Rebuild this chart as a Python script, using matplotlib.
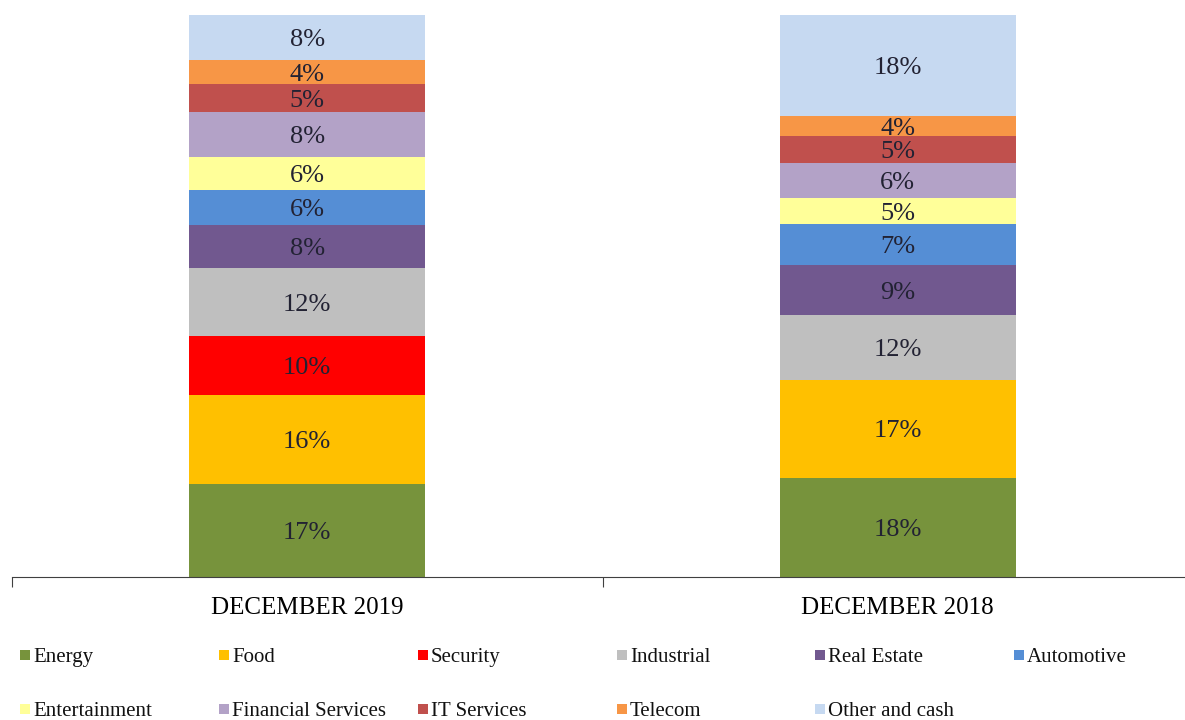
import matplotlib
matplotlib.use("Agg")
import matplotlib.pyplot as plt
from matplotlib.patches import Rectangle

periods = ["DECEMBER 2019", "DECEMBER 2018"]
sectors = ["Energy", "Food", "Security", "Industrial", "Real Estate", "Automotive",
           "Entertainment", "Financial Services", "IT Services", "Telecom", "Other and cash"]
dec_2019 = [16.6, 15.8, 10.4, 12.1, 7.8, 6.1, 5.9, 8.0, 5.0, 4.3, 8.0]
dec_2018 = [17.7, 17.3, 0.0, 11.6, 8.9, 7.3, 4.6, 6.2, 4.8, 3.6, 18.0]
colors = ["#77933C", "#FFC000", "#FF0000", "#BFBFBF", "#71588F", "#558ED5",
          "#FFFF99", "#B3A2C7", "#C0504D", "#F79646", "#C6D9F1"]

serif = ["Liberation Serif", "DejaVu Serif"]
W, H = 1185, 720

fig = plt.figure(figsize=(W / 100, H / 100), dpi=100)
ax = fig.add_axes([12 / W, (H - 577) / H, 1181 / W, (577 - 15) / H])

series = [dec_2019, dec_2018]
x = list(range(len(periods)))
bottoms = [0.0] * len(periods)
for i, sec in enumerate(sectors):
    vals = [s[i] for s in series]
    ax.bar(x, vals, width=0.4, bottom=bottoms, color=colors[i], label=sec)
    for xi, v, b in zip(x, vals, bottoms):
        if v > 0:
            ax.text(xi, b + v / 2, f"{v:.0f}%", ha="center", va="center_baseline",
                    fontsize=19, family=serif, color="#222233")
    bottoms = [b + v for b, v in zip(bottoms, vals)]

ax.set_xlim(-0.5, 1.5)
ax.set_ylim(0, 100)
for sp in ["top", "right", "left"]:
    ax.spines[sp].set_visible(False)
ax.spines["bottom"].set_color("#404040")
ax.set_yticks([])
ax.set_xticks([-0.5, 0.5, 1.5])
ax.set_xticklabels([])
ax.tick_params(axis="x", length=7, color="#404040")
for xi, p in zip(x, periods):
    ax.text(xi, -5.6, p, ha="center", va="center", fontsize=18, family=serif,
            clip_on=False)

# legend: 2 rows x 6 columns, laid out row-wise
col_x = [20, 219, 418, 617, 815, 1014]
row_base = [662, 716]
for k, (sec, c) in enumerate(zip(sectors, colors)):
    r, cidx = divmod(k, 6)
    px, pb = col_x[cidx], row_base[r]
    fig.patches.append(Rectangle((px / W, 1 - (pb - 2) / H), 10 / W, 10 / H,
                                 transform=fig.transFigure, facecolor=c,
                                 edgecolor="none"))
    fig.text((px + 13) / W, 1 - pb / H, sec, ha="left", va="baseline",
             fontsize=15, family=serif, color="#111111")

fig.savefig("out.png", dpi=100)
